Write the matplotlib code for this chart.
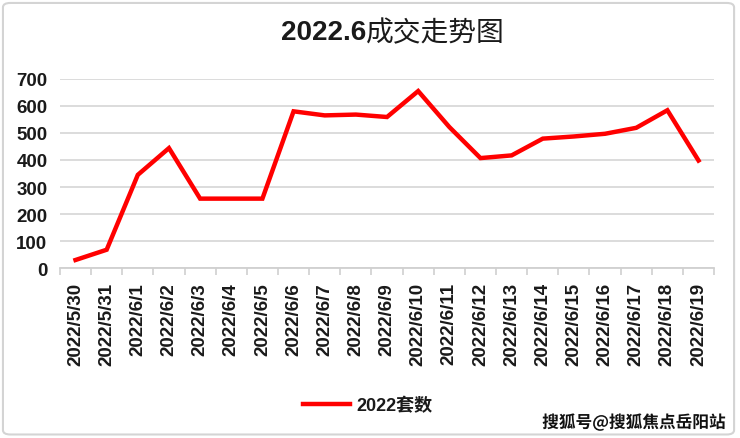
import matplotlib
matplotlib.use('Agg')
import matplotlib.pyplot as plt
import matplotlib.patheffects as pe
from matplotlib.patches import FancyBboxPatch

plt.rcParams['font.family'] = ['Liberation Sans', 'Noto Sans CJK SC']

# data
dates = ['2022/5/30', '2022/5/31', '2022/6/1', '2022/6/2', '2022/6/3', '2022/6/4',
         '2022/6/5', '2022/6/6', '2022/6/7', '2022/6/8', '2022/6/9', '2022/6/10',
         '2022/6/11', '2022/6/12', '2022/6/13', '2022/6/14', '2022/6/15', '2022/6/16',
         '2022/6/17', '2022/6/18', '2022/6/19']
sales = [30, 68, 345, 444, 257, 257, 257, 580, 565, 568, 559, 655,
         522, 407, 417, 479, 487, 497, 519, 584, 398]
yticks = [0, 100, 200, 300, 400, 500, 600, 700]

fig = plt.figure(figsize=(7.4, 4.39), dpi=100)
ax = fig.add_axes([0.081, 0.387, 0.884, 0.431])

x = range(len(dates))
ax.plot(x, sales, color='#ff0000', linewidth=3.2, solid_joinstyle='miter',
        label='2022套数', zorder=3)

ax.set_xlim(-0.5, len(dates) - 0.5)
ax.set_ylim(0, 700)
ax.set_yticks(yticks)
ax.set_yticklabels([str(v) for v in yticks], fontsize=13.5, fontweight='bold', color='#1a1a1a')
ax.tick_params(axis='y', length=0, pad=9)

ax.set_xticks(list(x))
ax.set_xticklabels(dates, rotation=90, fontsize=13.5, fontweight='bold', color='#1a1a1a')
ax.set_xticks([i - 0.5 for i in range(len(dates) + 1)], minor=True)
ax.tick_params(axis='x', which='major', length=0, pad=10)
ax.tick_params(axis='x', which='minor', length=5, width=1.2, color='#d0d0d0')

ax.grid(axis='y', color='#d9d9d9', linewidth=1.3)
ax.set_axisbelow(True)
for s in ['top', 'right', 'left']:
    ax.spines[s].set_visible(False)
ax.spines['bottom'].set_color('#d0d0d0')
ax.spines['bottom'].set_linewidth(1.3)

# title: bold digits, regular Chinese
fig.text(0.4946, 0.925, '2022.6', ha='right', va='center', fontsize=20, fontweight='bold',
         color='#1a1a1a')
fig.text(0.4946, 0.925, '成交走势图', ha='left', va='center', fontsize=20,
         family='Noto Sans CJK SC', color='#1a1a1a')

leg = fig.legend(loc='center', bbox_to_anchor=(0.497, 0.073), frameon=False,
                 handlelength=2.6, handletextpad=0.4,
                 prop={'size': 13, 'weight': 'bold'})
for t in leg.get_texts():
    t.set_color('#1a1a1a')

fig.text(0.98, 0.036, '搜狐号@搜狐焦点岳阳站', ha='right', va='center', fontsize=12,
         family='Noto Sans CJK SC', fontweight='bold', color='#111111',
         path_effects=[pe.withStroke(linewidth=2.5, foreground='white')])

border = FancyBboxPatch((0.004, 0.008), 0.988, 0.983, boxstyle='round,pad=0,rounding_size=0.01',
                        transform=fig.transFigure, fill=False, edgecolor='#d4d4d4', linewidth=1.5)
fig.patches.append(border)

fig.savefig('out.png', dpi=100)
